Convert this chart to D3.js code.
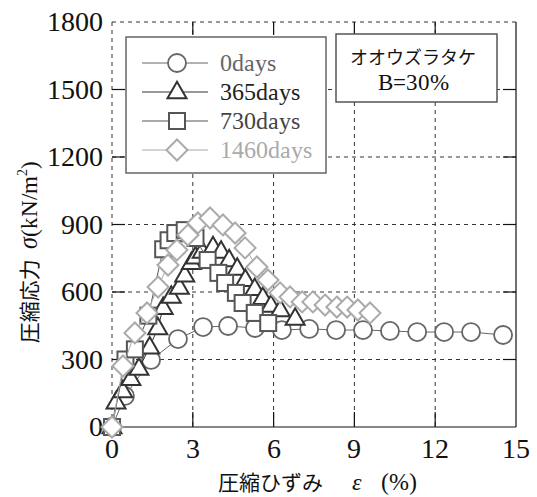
<!DOCTYPE html>
<html lang="en">
<head>
<meta charset="utf-8">
<script src="https://cdn.jsdelivr.net/npm/d3@7"></script>
<style>
  @font-face { font-family: "ChartSerif"; src: local("Liberation Serif"), local("LiberationSerif"); font-style: normal; }
  @font-face { font-family: "ChartSerif"; src: local("Liberation Serif Italic"), local("LiberationSerif-Italic"); font-style: italic; }
  body { margin: 0; background: #fff; }
  svg { display: block; }
</style>
</head>
<body>
<div id="chart"></div>
<script>
const xTicks = [0, 3, 6, 9, 12, 15];
const yTicks = [0, 300, 600, 900, 1200, 1500, 1800];

const days0X = [0, 0.48, 1.45, 2.45, 3.38, 4.31, 5.31, 6.31, 7.32, 8.32, 9.32, 10.32, 11.33, 12.33, 13.33, 14.52];
const days0Y = [0, 138, 298, 391, 444, 449, 440, 431, 436, 431, 431, 427, 422, 422, 422, 409];

const days365X = [0, 0.15, 0.4, 0.7, 1.0, 1.4, 1.7, 1.9, 2.2, 2.5, 2.7, 2.95, 3.1, 3.35, 3.75, 4.05, 4.35, 4.65, 4.95, 5.3, 5.6, 5.9, 6.25, 6.8];
const days365Y = [0, 110, 160, 215, 260, 355, 440, 530, 580, 620, 675, 730, 755, 780, 800, 780, 742, 705, 655, 615, 575, 540, 520, 482];

const days730X = [0, 0.5, 0.85, 1.35, 1.9, 2.1, 2.35, 2.7, 3.1, 3.55, 3.95, 4.2, 4.6, 4.85, 5.3, 5.8];
const days730Y = [0, 300, 345, 495, 790, 830, 862, 875, 840, 742, 685, 640, 596, 551, 507, 462];

const days1460X = [0, 0.41, 0.85, 1.3, 1.71, 2.08, 2.41, 2.82, 3.19, 3.64, 4.12, 4.57, 4.94, 5.38, 5.79, 6.24, 6.61, 7.06, 7.46, 7.91, 8.35, 8.73, 9.13, 9.58];
const days1460Y = [0, 271, 418, 507, 622, 720, 787, 853, 907, 929, 898, 862, 796, 711, 653, 596, 578, 556, 556, 542, 533, 533, 520, 507];

const seriesNames = ["0days", "365days", "730days", "1460days"];

const series = [
  { name: seriesNames[0], xs: days0X, ys: days0Y, color: "#666", text: "#666", shape: "circle" },
  { name: seriesNames[1], xs: days365X, ys: days365Y, color: "#333", text: "#222", shape: "triangle" },
  { name: seriesNames[2], xs: days730X, ys: days730Y, color: "#555", text: "#444", shape: "square" },
  { name: seriesNames[3], xs: days1460X, ys: days1460Y, color: "#aaa", text: "#aaa", shape: "diamond" },
];

const W = 537, H = 497;
const plotL = 112, plotR = 516, plotT = 22, plotB = 427;

const x = d3.scaleLinear().domain([0, 15]).range([plotL, plotR]);
const y = d3.scaleLinear().domain([0, 1800]).range([plotB, plotT]);

const SERIF = '"ChartSerif", "Liberation Serif", serif';
const JP = '"Noto Sans CJK JP", sans-serif';

const svg = d3.select("#chart").append("svg").attr("width", W).attr("height", H)
  .style("font-family", SERIF);

// font and size both go on the tspan, nothing on the text element
function serifSpan(sel, size) {
  return sel.append("tspan").style("font-family", SERIF, "important").attr("font-size", size);
}
function jpSpan(sel, size) {
  return sel.append("tspan").style("font-family", JP, "important").attr("font-size", size);
}

// gridlines (dashed)
const grid = svg.append("g").attr("stroke", "#333").attr("stroke-width", 1).attr("stroke-dasharray", "4,4");
xTicks.slice(1, -1).forEach((t) => {
  grid.append("line").attr("x1", x(t)).attr("x2", x(t)).attr("y1", plotT).attr("y2", plotB);
});
yTicks.slice(1, -1).forEach((t) => {
  grid.append("line").attr("x1", plotL).attr("x2", plotR).attr("y1", y(t)).attr("y2", y(t));
});
// dashed top and left edges
grid.append("line").attr("x1", plotL).attr("x2", plotR).attr("y1", plotT).attr("y2", plotT);
grid.append("line").attr("x1", plotL).attr("x2", plotL).attr("y1", plotT).attr("y2", plotB);

// solid bottom and right edges
const frame = svg.append("g").attr("stroke", "#111").attr("stroke-width", 1.2);
frame.append("line").attr("x1", plotL).attr("x2", plotR).attr("y1", plotB).attr("y2", plotB);
frame.append("line").attr("x1", plotR).attr("x2", plotR).attr("y1", plotT).attr("y2", plotB);

// inward ticks
const tickLen = 13;
xTicks.slice(1, -1).forEach((t) => {
  frame.append("line").attr("x1", x(t)).attr("x2", x(t)).attr("y1", plotB).attr("y2", plotB - tickLen - 2);
  frame.append("line").attr("x1", x(t)).attr("x2", x(t)).attr("y1", plotT).attr("y2", plotT + tickLen);
});
yTicks.slice(1, -1).forEach((t) => {
  frame.append("line").attr("x1", plotL).attr("x2", plotL + tickLen).attr("y1", y(t)).attr("y2", y(t));
  frame.append("line").attr("x1", plotR).attr("x2", plotR - tickLen).attr("y1", y(t)).attr("y2", y(t));
});

// tick labels
const xLab = svg.append("g").selectAll("text").data(xTicks).join("text")
  .attr("x", (d) => x(d)).attr("y", plotB + 31)
  .attr("text-anchor", "middle").attr("fill", "#111");
serifSpan(xLab, 28).text((d) => d);
const yLab = svg.append("g").selectAll("text").data(yTicks).join("text")
  .attr("x", plotL - 9).attr("y", (d) => y(d) + 9)
  .attr("text-anchor", "end").attr("fill", "#111");
serifSpan(yLab, 28).text((d) => d);

function drawMarker(g, shape, cx, cy, color) {
  if (shape === "circle") {
    g.append("circle").attr("cx", cx).attr("cy", cy).attr("r", 9)
      .attr("fill", "#fff").attr("stroke", color).attr("stroke-width", 1.8);
  } else if (shape === "triangle") {
    const s = 19;
    const h = s * Math.sqrt(3) / 2;
    g.append("path").attr("d", `M${cx},${cy - h * 0.62}L${cx + s / 2},${cy + h * 0.38}L${cx - s / 2},${cy + h * 0.38}Z`)
      .attr("fill", "#fff").attr("stroke", color).attr("stroke-width", 2);
  } else if (shape === "square") {
    const s = 16;
    g.append("rect").attr("x", cx - s / 2).attr("y", cy - s / 2).attr("width", s).attr("height", s)
      .attr("fill", "#fff").attr("stroke", color).attr("stroke-width", 2);
  } else {
    const r = 10.5;
    g.append("path").attr("d", `M${cx},${cy - r}L${cx + r},${cy}L${cx},${cy + r}L${cx - r},${cy}Z`)
      .attr("fill", "#fff").attr("stroke", color).attr("stroke-width", 2);
  }
}

const line = d3.line().x((d) => x(d[0])).y((d) => y(d[1]));

series.forEach((s) => {
  const pts = s.xs.map((v, i) => [v, s.ys[i]]);
  const g = svg.append("g");
  g.append("path").attr("d", line(pts)).attr("fill", "none").attr("stroke", s.color).attr("stroke-width", 1);
  pts.forEach((p) => drawMarker(g, s.shape, x(p[0]), y(p[1]), s.color));
});

// legend
const lg = svg.append("g");
lg.append("rect").attr("x", 126).attr("y", 37).attr("width", 200).attr("height", 136)
  .attr("fill", "#fff").attr("stroke", "#666").attr("stroke-width", 1.5);
series.forEach((s, i) => {
  const cy = 63 + i * 29;
  lg.append("line").attr("x1", 142).attr("x2", 208).attr("y1", cy).attr("y2", cy)
    .attr("stroke", s.color).attr("stroke-width", 1);
  drawMarker(lg, s.shape, 177, cy, s.color);
  const t = lg.append("text").attr("x", 220).attr("y", cy + 8).attr("fill", s.text);
  serifSpan(t, 24).text(s.name);
});

// annotation box
const ab = svg.append("g");
ab.append("rect").attr("x", 336).attr("y", 34).attr("width", 161).attr("height", 68)
  .attr("fill", "#fff").attr("stroke", "#555").attr("stroke-width", 1.5);
const abJp = ab.append("text").attr("x", 413).attr("y", 64).attr("text-anchor", "middle").attr("fill", "#111");
jpSpan(abJp, 18).attr("lang", "ja").text("オオウズラタケ");
const abB = ab.append("text").attr("x", 413).attr("y", 90).attr("text-anchor", "middle").attr("fill", "#111");
serifSpan(abB, 23).text("B=30%");

// x axis title
const xt = svg.append("text").attr("x", 218).attr("y", 490).attr("fill", "#111");
jpSpan(xt, 21).attr("lang", "ja").text("圧縮ひずみ");
serifSpan(xt, 24).attr("x", 352).attr("font-style", "italic").text("ε");
serifSpan(xt, 24).attr("x", 381).text("(%)");

// y axis title
const yt = svg.append("text").attr("transform", "translate(37,252) rotate(-90)")
  .attr("text-anchor", "middle").attr("fill", "#111");
jpSpan(yt, 21).attr("lang", "ja").text("圧縮応力\u2002");
serifSpan(yt, 24).attr("font-style", "italic").text("σ");
serifSpan(yt, 23).text("(kN/m");
serifSpan(yt, 14).attr("dy", -10).text("2");
serifSpan(yt, 23).attr("dy", 10).text(")");
</script>
</body>
</html>
